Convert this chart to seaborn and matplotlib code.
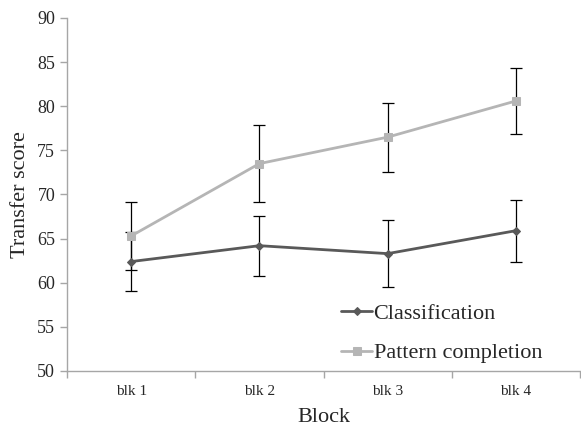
import seaborn as sns
from matplotlib import pyplot as plt
import pandas as pd
import numpy as np

sns.set_theme(style="white")
plt.rcParams['font.family'] = ['Liberation Serif', 'DejaVu Serif']

blocks = ['blk 1', 'blk 2', 'blk 3', 'blk 4']
classification = [62.4, 64.2, 63.3, 65.9]
classification_err = [3.3, 3.4, 3.8, 3.5]
pattern = [65.3, 73.5, 76.5, 80.6]
pattern_err = [3.9, 4.4, 3.9, 3.7]

df = pd.DataFrame({
    'pos': list(range(4)) * 2,
    'score': classification + pattern,
    'err': classification_err + pattern_err,
    'task': ['Classification'] * 4 + ['Pattern completion'] * 4,
})

fig = plt.figure(figsize=(5.81, 4.26), dpi=100)
ax = fig.add_axes([67 / 581, 55 / 426, 513 / 581, 353 / 426])

colors = {'Classification': '#595959', 'Pattern completion': '#b5b5b5'}
markers = {'Classification': 'D', 'Pattern completion': 's'}
sizes = {'Classification': 4.5, 'Pattern completion': 6}

for task, sub in df.groupby('task'):
    ax.errorbar(sub['pos'], sub['score'], yerr=sub['err'], fmt='none',
                ecolor='black', elinewidth=0.9, capsize=4, capthick=0.9, zorder=1)

for task in ['Classification', 'Pattern completion']:
    sub = df[df['task'] == task]
    sns.lineplot(data=sub, x='pos', y='score', ax=ax, color=colors[task],
                 marker=markers[task], markersize=sizes[task],
                 markeredgecolor=colors[task], linewidth=2, label=task, zorder=2)

ax.set_xlim(-0.5, 3.5)
ax.set_ylim(50, 90)
ax.set_yticks(np.arange(50, 91, 5))
ax.set_xticks(range(4))
ax.set_xticklabels(blocks)
ax.set_xticks(np.arange(-0.5, 3.6, 1), minor=True)
ax.tick_params(axis='x', which='major', length=0, pad=10, labelsize=11)
ax.tick_params(axis='x', which='minor', length=5, color='#a6a6a6', width=1, direction='out', bottom=True)
ax.tick_params(axis='y', length=5, color='#a6a6a6', width=1, direction='out', left=True, labelsize=13)

for s in ['top', 'right']:
    ax.spines[s].set_visible(False)
for s in ['left', 'bottom']:
    ax.spines[s].set_color('#a6a6a6')
    ax.spines[s].set_linewidth(1)

ax.set_xlabel('Block', fontsize=16, labelpad=7)
ax.set_ylabel('Transfer score', fontsize=16, labelpad=5)

ax.legend(loc='lower right', bbox_to_anchor=(0.965, -0.035), frameon=False, fontsize=16,
          handlelength=1.4, handletextpad=0.05, labelspacing=0.85)

plt.savefig('out.png', dpi=100)
